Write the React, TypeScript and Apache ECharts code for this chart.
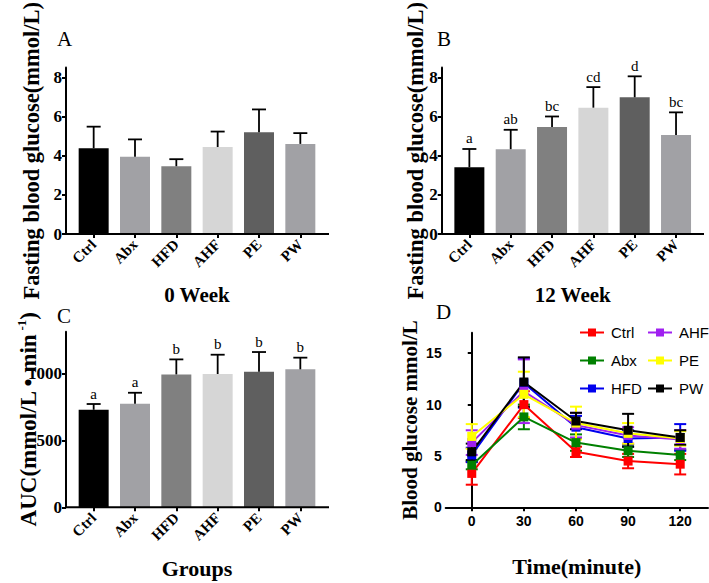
import React, { useEffect, useRef } from "react";
import * as echarts from "echarts";

const groups = ["Ctrl", "Abx", "HFD", "AHF", "PE", "PW"];
const barColors = ["#000000", "#a1a1a5", "#808080", "#d6d6d6", "#5f5f5f", "#a1a1a5"];

const week0Mean = [4.38, 3.95, 3.46, 4.44, 5.19, 4.6];
const week0Sd = [1.1, 0.88, 0.36, 0.79, 1.17, 0.55];

const week12Mean = [3.41, 4.33, 5.46, 6.45, 6.98, 5.06];
const week12Sd = [0.93, 0.99, 0.54, 1.05, 1.07, 1.15];
const week12Letters = ["a", "ab", "bc", "cd", "d", "bc"];

const aucMean = [728, 773, 992, 995, 1012, 1030];
const aucSd = [43, 82, 112, 144, 147, 87];
const aucLetters = ["a", "a", "b", "b", "b", "b"];

const times = [0, 30, 60, 90, 120];
const ctrlMean = [3.3, 10.0, 5.4, 4.5, 4.2];
const ctrlSd = [1.1, 1.3, 0.5, 0.7, 1.0];
const abxMean = [4.1, 8.8, 6.3, 5.5, 5.1];
const abxSd = [0.4, 1.2, 0.8, 0.6, 0.5];
const hfdMean = [5.1, 12.1, 7.8, 6.7, 6.8];
const hfdSd = [0.7, 2.4, 1.1, 0.8, 1.3];
const ahfMean = [6.3, 11.3, 8.0, 7.0, 6.6];
const ahfSd = [1.2, 3.1, 1.2, 0.8, 0.9];
const peMean = [6.9, 11.0, 8.2, 7.2, 6.7];
const peSd = [1.2, 2.2, 1.6, 1.0, 0.7];
const pwMean = [5.4, 12.2, 8.4, 7.5, 6.8];
const pwSd = [0.8, 2.4, 0.8, 1.6, 0.7];

const lineSeries = [
  { name: "Ctrl", color: "#ff0000", mean: ctrlMean, sd: ctrlSd },
  { name: "Abx", color: "#008000", mean: abxMean, sd: abxSd },
  { name: "HFD", color: "#0000ee", mean: hfdMean, sd: hfdSd },
  { name: "AHF", color: "#a020f0", mean: ahfMean, sd: ahfSd },
  { name: "PE", color: "#ffff00", mean: peMean, sd: peSd },
  { name: "PW", color: "#000000", mean: pwMean, sd: pwSd },
];

const SERIF = "'Liberation Serif', 'Times New Roman', serif";
const SANS = "'Liberation Sans', Arial, sans-serif";

function barErrSeries(idx: number, mean: number[], sd: number[], letters: string[] | null) {
  return {
    type: "custom",
    xAxisIndex: idx,
    yAxisIndex: idx,
    z: 5,
    data: mean.map((m, i) => [i, m, sd[i]]),
    renderItem: (params: any, api: any) => {
      const i = api.value(0);
      const m = api.value(1);
      const s = api.value(2);
      const lab = letters ? letters[i] : "";
      const p0 = api.coord([i, m]);
      const p1 = api.coord([i, m + s]);
      const style = { stroke: "#000", lineWidth: 1.8 };
      const children: any[] = [
        { type: "line", shape: { x1: p0[0], y1: p0[1], x2: p1[0], y2: p1[1] }, style },
        { type: "line", shape: { x1: p1[0] - 7, y1: p1[1], x2: p1[0] + 7, y2: p1[1] }, style },
      ];
      if (lab) {
        children.push({
          type: "text",
          x: p1[0],
          y: p1[1] - 3,
          style: { text: lab, fontFamily: SERIF, fontSize: 15, fill: "#000", align: "center", verticalAlign: "bottom" },
        });
      }
      return { type: "group", children };
    },
  };
}

function lineErrSeries(color: string, mean: number[], sd: number[]) {
  return {
    type: "custom",
    xAxisIndex: 3,
    yAxisIndex: 3,
    z: 3,
    data: mean.map((m, i) => [times[i], m, sd[i]]),
    renderItem: (params: any, api: any) => {
      const x = api.value(0);
      const m = api.value(1);
      const s = api.value(2);
      const pt = api.coord([x, m + s]);
      const pb = api.coord([x, m - s]);
      const style = { stroke: color, lineWidth: 2 };
      return {
        type: "group",
        children: [
          { type: "line", shape: { x1: pt[0], y1: pt[1], x2: pb[0], y2: pb[1] }, style },
          { type: "line", shape: { x1: pt[0] - 6, y1: pt[1], x2: pt[0] + 6, y2: pt[1] }, style },
          { type: "line", shape: { x1: pb[0] - 6, y1: pb[1], x2: pb[0] + 6, y2: pb[1] }, style },
        ],
      };
    },
  };
}

function catAxis(idx: number) {
  return {
    type: "category",
    gridIndex: idx,
    data: groups,
    boundaryGap: true,
    nameMoveOverlap: false,
    axisLine: { show: false },
    axisTick: { show: true, alignWithLabel: true, length: 4, lineStyle: { color: "#000", width: 2 } },
    axisLabel: {
      rotate: 45,
      margin: 8,
      fontFamily: SERIF,
      fontWeight: "bold",
      fontSize: 15,
      color: "#000",
      interval: 0,
    },
    splitLine: { show: false },
  };
}

export default function App() {
  const ref = useRef<HTMLDivElement>(null);
  useEffect(() => {
    if (!ref.current) return;
    const chart = echarts.init(ref.current, null, { renderer: "svg" });

    const yBase = (idx: number, max: number, vals: number[], name: any, gap: number, offset: number, sans: boolean, nameSize: number) => ({
      type: "value",
      gridIndex: idx,
      min: 0,
      max,
      offset,
      name,
      nameLocation: "middle",
      nameRotate: 90,
      nameGap: gap,
      nameMoveOverlap: false,
      nameTextStyle: {
        fontFamily: SERIF,
        fontWeight: "bold",
        fontSize: nameSize,
        color: "#000",
      },
      axisLine: { show: true, lineStyle: { color: "#000", width: 2 } },
      axisTick: { show: true, length: 4, customValues: vals, lineStyle: { color: "#000", width: 2 } },
      axisLabel: {
        customValues: vals,
        margin: 4,
        formatter: (v: number) => String(v),
        fontFamily: sans ? SANS : SERIF,
        fontWeight: "bold",
        fontSize: sans ? 14 : 17,
        color: "#000",
      },
      splitLine: { show: false },
    });

    const xNameStyle = { fontFamily: SERIF, fontWeight: "bold", fontSize: 21, color: "#000" };

    const xAxes: any[] = [
      { ...catAxis(0), name: "0 Week", nameLocation: "middle", nameGap: 50, nameTextStyle: xNameStyle },
      { ...catAxis(1), name: "12 Week", nameLocation: "middle", nameGap: 50, nameTextStyle: xNameStyle },
      { ...catAxis(2), name: "Groups", nameLocation: "middle", nameGap: 50, nameTextStyle: { ...xNameStyle, fontSize: 22 } },
      {
        type: "value",
        gridIndex: 3,
        min: -15,
        max: 136,
        name: "Time(minute)",
        nameLocation: "middle",
        nameGap: 48,
        nameMoveOverlap: false,
        nameTextStyle: { ...xNameStyle, fontSize: 22 },
        axisLine: { show: true, onZero: false, lineStyle: { color: "#000", width: 2 } },
        axisTick: { show: true, length: 4, customValues: times, lineStyle: { color: "#000", width: 2 } },
        axisLabel: {
          customValues: times,
          margin: 7,
          fontFamily: SANS,
          fontWeight: "bold",
          fontSize: 14,
          color: "#000",
        },
        splitLine: { show: false },
      },
    ];

    const aucName = "{n|AUC(mmol/L • min}{s| -1}{n|)}";

    const yAxes: any[] = [
      yBase(0, 8.5, [0, 2, 4, 6, 8], "Fasting blood glucose(mmol/L)", 23, 7, false, 22.5),
      yBase(1, 8.5, [0, 2, 4, 6, 8], "Fasting blood glucose(mmol/L)", 15, 7, false, 22.5),
      {
        ...yBase(2, 1310, [0, 500, 1000], aucName, 25, 7, false, 23),
        nameTextStyle: {
          rich: {
            n: { fontFamily: SERIF, fontWeight: "bold", fontSize: 23, color: "#000", lineHeight: 26 },
            s: { fontFamily: SERIF, fontWeight: "bold", fontSize: 13, color: "#000", lineHeight: 26, verticalAlign: "top" },
          },
        },
      },
      yBase(3, 17, [0, 5, 10, 15], "Blood glucose mmol/L", 25, 0, true, 21),
    ];

    const barSeries = (idx: number, mean: number[]) => ({
      type: "bar",
      xAxisIndex: idx,
      yAxisIndex: idx,
      barWidth: 30,
      z: 2,
      data: mean.map((v, i) => ({ value: v, itemStyle: { color: barColors[i] } })),
    });

    const series: any[] = [
      barSeries(0, week0Mean),
      barErrSeries(0, week0Mean, week0Sd, null),
      barSeries(1, week12Mean),
      barErrSeries(1, week12Mean, week12Sd, week12Letters),
      barSeries(2, aucMean),
      barErrSeries(2, aucMean, aucSd, aucLetters),
    ];
    lineSeries.forEach((s) => {
      series.push(lineErrSeries(s.color, s.mean, s.sd));
    });
    lineSeries.forEach((s) => {
      series.push({
        type: "line",
        name: s.name,
        xAxisIndex: 3,
        yAxisIndex: 3,
        z: 4,
        data: s.mean.map((m, i) => [times[i], m]),
        symbol: "rect",
        symbolSize: 9,
        color: s.color,
        lineStyle: { color: s.color, width: 2 },
        itemStyle: { color: s.color },
      });
    });

    const axisExt = (x1: number, x2: number, y: number) => ({
      type: "line",
      shape: { x1, y1: y, x2, y2: y },
      style: { stroke: "#000", lineWidth: 2 },
      z: 10,
    });
    const panelLetter = (t: string, x: number, y: number) => ({
      type: "text",
      x,
      y,
      style: { text: t, fontFamily: SERIF, fontSize: 21, fill: "#000" },
    });

    const legendCommon = {
      orient: "vertical",
      padding: 0,
      itemWidth: 24,
      itemHeight: 10,
      itemGap: 13,
      textStyle: { fontFamily: SANS, fontSize: 15, color: "#000", padding: [0, 0, 0, 2] },
    };

    chart.setOption({
      animation: false,
      backgroundColor: "#ffffff",
      grid: [
        { left: 73, top: 60, width: 248, height: 174 },
        { left: 448.7, top: 60, width: 248, height: 174 },
        { left: 73, top: 331.8, width: 248, height: 175.5 },
        { left: 445.7, top: 332.7, width: 262.3, height: 174.6 },
      ],
      xAxis: xAxes,
      yAxis: yAxes,
      legend: [
        { ...legendCommon, left: 579, top: 325, data: ["Ctrl", "Abx", "HFD"] },
        { ...legendCommon, left: 647, top: 325, data: ["AHF", "PE", "PW"] },
      ],
      graphic: [
        axisExt(66, 329, 234),
        axisExt(441.7, 704, 234),
        axisExt(66, 329, 507.3),
        panelLetter("A", 57, 28),
        panelLetter("B", 437, 28),
        panelLetter("C", 57, 305),
        panelLetter("D", 436, 301),
      ],
      series,
    });
    return () => chart.dispose();
  }, []);
  return (
    <div
      ref={ref}
      style={{ position: "fixed", left: 0, top: 0, width: 709, height: 583, background: "#fff" }}
    />
  );
}
